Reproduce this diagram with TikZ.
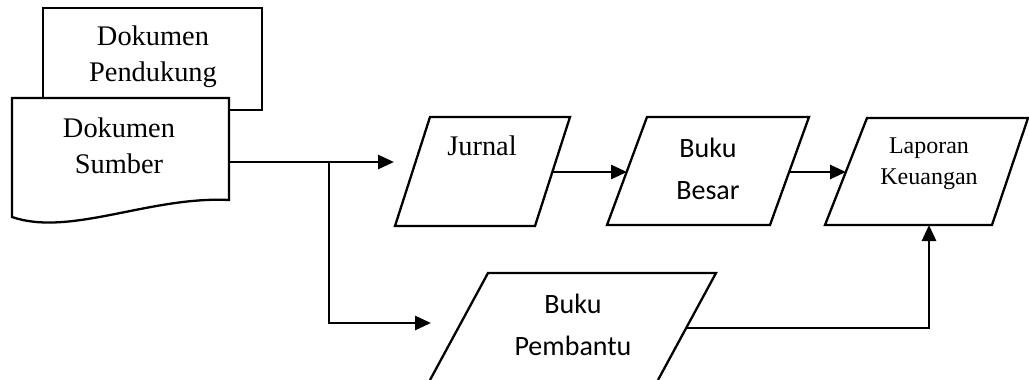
\documentclass[tikz,border=0pt]{standalone}
\usepackage{fontspec}
\setmainfont{Liberation Serif}
\newfontfamily\calibri{Carlito}
\usetikzlibrary{arrows.meta}
\begin{document}
\begin{tikzpicture}[x=0.5pt,y=-0.5pt,
  box/.style={draw,line width=1.15pt,fill=white,line join=miter},
  conn/.style={line width=1.4pt},
  arr/.style={conn,-{Triangle[length=8pt,width=7pt]}},
  lbl/.style={align=center,inner sep=0pt},
  tnr/.style={font=\fontsize{14.2}{18}\selectfont},
  cal/.style={font=\calibri\fontsize{14}{21}\selectfont},
  small/.style={font=\fontsize{12}{15.5}\selectfont}]
\useasboundingbox (0,0) rectangle (1029,380);

% Dokumen Pendukung
\draw[box] (43,8) rectangle (262,110);
\node[lbl,tnr] (pend) at (153,57) {Dokumen\\Pendukung};

% Dokumen Sumber
\draw[box] (12,98) -- (229,98) -- (229,200) .. controls (150,196) and (70,237) .. (12,217) -- cycle;
\node[lbl,tnr] (sumb) at (119,146) {Dokumen\\Sumber};

% Jurnal
\draw[box] (430,117) -- (570,117) -- (535,226) -- (395,226) -- cycle;
\node[lbl,tnr,anchor=base] (jur) at (482,155) {Jurnal};

% Buku Besar
\draw[box] (647,117) -- (809,117) -- (770,225) -- (607,225) -- cycle;
\node[lbl,cal] (bes) at (708,169) {Buku\\Besar};

% Laporan Keuangan
\draw[box] (867,118) -- (1028,118) -- (992,225) -- (825,225) -- cycle;
\node[lbl,small] (lap) at (929,164) {Laporan\\Keuangan};

% Buku Pembantu (cut off at the bottom)
\draw[line width=1.15pt] (430,380) -- (488,273) -- (716,273) -- (658,380);
\node[lbl,cal] (pem) at (573,325) {Buku\\Pembantu};

% connector points
\coordinate (sumbOut) at (229,162);
\coordinate (split) at (329,162);
\coordinate (jurIn) at (394,162);
\coordinate (bend) at (329,323);
\coordinate (pemIn) at (431,323);
\coordinate (jurOut) at (552,172);
\coordinate (besIn) at (627,172);
\coordinate (besOut) at (789,172);
\coordinate (lapIn) at (846,172);
\coordinate (pemOut) at (687,328);
\coordinate (lapCorner) at (929,328);
\coordinate (lapBot) at (929,225);

\draw[conn] (sumbOut) -- (split);
\draw[arr] (split) -- (jurIn);
\draw[arr] (split) -- (bend) -- (pemIn);
\draw[arr] (jurOut) -- (besIn);
\draw[arr] (besOut) -- (lapIn);
\draw[arr] (pemOut) -- (lapCorner) -- (lapBot);
\end{tikzpicture}
\end{document}
